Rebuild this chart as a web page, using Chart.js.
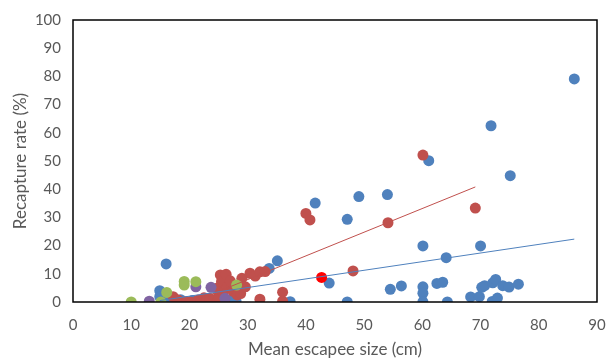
<!DOCTYPE html>
<html>
<head>
<meta charset="utf-8">
<script src="https://cdn.jsdelivr.net/npm/chart.js@4"></script>
<style>
  html, body { margin: 0; padding: 0; background: #fff; }
  #wrap { width: 615px; height: 360px; }
</style>
</head>
<body>
<div id="wrap"><canvas id="chart" width="615" height="360"></canvas></div>
<script>
// === Data: [size cm, recapture %] ===
const bluePts = [
  [14.9, 4.0], [14.9, 1.9], [16, 13.5], [16.5, 0.3], [17.5, 0], [18.5, 0.8],
  [19.5, 0], [20.5, 0.5], [21.5, 0.2], [22.5, 1.2], [23, 0], [24.5, 0.5],
  [25.5, 0], [26.5, 0.3], [26.9, 0.6], [27.5, 0], [28, 0.4], [33.7, 11.9],
  [35.1, 14.6], [37.3, 0.1], [41.6, 35.1], [44, 6.7], [47.1, 29.3], [47.1, 0],
  [49.1, 37.4], [54, 38.1], [54.5, 4.5], [56.4, 5.7], [60.1, 19.9], [60.1, 5.4],
  [60.1, 3.1], [60.1, 0], [61.1, 50.1], [62.5, 6.6], [63.5, 7.0], [64.1, 15.7],
  [64.3, 0], [68.3, 1.8], [69.8, 1.9], [70, 19.9], [70.2, 5.2], [70.7, 5.8],
  [71.8, 62.5], [72.1, 6.8], [72.6, 8.0], [72, 0.2], [72.9, 1.4], [73.8, 5.8],
  [74.9, 5.3], [75.1, 44.8], [76.5, 6.3], [86.1, 79.1]
];
const redPts = [
  [17.2, 1.9], [18.1, 0.7], [19.5, 0.2], [20.2, 0], [21.5, 0.7], [22, 0.3],
  [22.5, 1.5], [23.5, 1.3], [24.2, 0.5], [24.8, 0.3], [24.7, 4.9], [25, 2],
  [25.3, 9.6], [25.5, 7.2], [25.8, 3.1], [26, 0], [26.3, 9.8], [26.5, 5.5],
  [27, 7.5], [27.5, 3.8], [28.2, 2.5], [28.8, 3], [29, 8.4], [29.6, 5.4],
  [30.4, 10.2], [31.3, 9.2], [32.1, 10.7], [33, 10.8], [32.1, 1], [36, 3.5],
  [36, 0.3], [40, 31.4], [40.7, 29.1], [48.1, 11], [54.1, 28.1], [60.1, 52.1],
  [69.1, 33.3]
];
const greenPts = [[10, 0], [15.1, 0], [16.1, 3.4], [19.1, 7.3], [19.1, 6], [21.1, 7.2], [28.1, 6]];
const purplePts = [[13.1, 0.3], [21.1, 5.4], [23.7, 5.2], [26.1, 1.3]];
const markedPts = [[42.7, 8.7]];

// trendline end points (as drawn in the picture)
const blueTrend = [[14.9, 0.5], [86.1, 22.3]];
const redTrend = [[17.2, -2.8], [69.1, 40.8]];

const xTicks = [0, 10, 20, 30, 40, 50, 60, 70, 80, 90];
const yTicks = [0, 10, 20, 30, 40, 50, 60, 70, 80, 90, 100];

const toXY = pts => pts.map(p => ({ x: p[0], y: p[1] }));

function dots(pts, color, order) {
  return {
    data: toXY(pts),
    backgroundColor: color,
    borderColor: color,
    borderWidth: 0,
    pointRadius: 5.5,
    pointHoverRadius: 5.5,
    order: order
  };
}

function trend(pts, color) {
  return {
    data: toXY(pts),
    showLine: true,
    borderColor: color,
    borderWidth: 1,
    pointRadius: 0,
    fill: false,
    order: 0
  };
}

// black box around plot area
const frame = {
  id: "frame",
  afterDatasetsDraw(chart) {
    const a = chart.chartArea;
    const c = chart.ctx;
    c.save();
    c.strokeStyle = "#000";
    c.lineWidth = 1.5;
    c.strokeRect(a.left, a.top, a.right - a.left, a.bottom - a.top);
    c.restore();
  }
};

const font = "Lato, 'Open Sans', sans-serif";

new Chart(document.getElementById("chart").getContext("2d"), {
  type: "scatter",
  data: {
    datasets: [
      trend(blueTrend, "#4F81BD"),
      trend(redTrend, "#C0504D"),
      dots(markedPts, "#FF0000", 1),
      dots(greenPts, "#9BBB59", 2),
      dots(purplePts, "#8064A2", 3),
      dots(redPts, "#C0504D", 4),
      dots(bluePts, "#4F81BD", 5)
    ]
  },
  options: {
    responsive: false,
    animation: false,
    layout: { padding: { left: 10, right: 18, top: 20, bottom: 0 } },
    plugins: {
      legend: { display: false },
      tooltip: { enabled: false }
    },
    scales: {
      x: {
        type: "linear",
        min: 0,
        max: 90,
        afterBuildTicks: axis => { axis.ticks = xTicks.map(v => ({ value: v })); },
        afterFit: axis => { axis.height = 58; },
        grid: { display: false },
        border: { display: false },
        ticks: { color: "#595959", font: { family: font, size: 15 }, padding: 6 },
        title: {
          display: true,
          text: "Mean escapee size (cm)",
          color: "#595959",
          font: { family: font, size: 17 },
          padding: { top: 0, bottom: 0 }
        }
      },
      y: {
        type: "linear",
        min: 0,
        max: 100,
        afterBuildTicks: axis => { axis.ticks = yTicks.map(v => ({ value: v })); },
        afterFit: axis => { axis.width = 63; },
        grid: { display: false },
        border: { display: false },
        ticks: { color: "#595959", font: { family: font, size: 15 }, padding: 4 },
        title: {
          display: true,
          text: "Recapture rate (%)",
          color: "#595959",
          font: { family: font, size: 17 },
          padding: { top: 0, bottom: 4 }
        }
      }
    }
  },
  plugins: [frame]
});
</script>
</body>
</html>
